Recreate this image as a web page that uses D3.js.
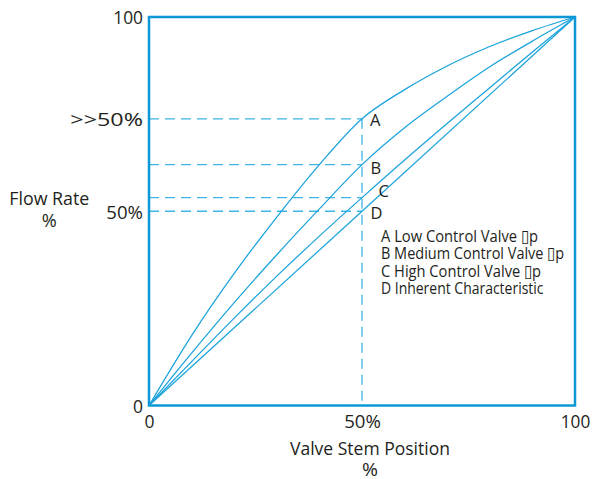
<!DOCTYPE html>
<html>
<head>
<meta charset="utf-8">
<script src="https://cdn.jsdelivr.net/npm/d3@7"></script>
<style>
  html, body { margin: 0; padding: 0; background: #fff; }
  svg { display: block; }
  text { font-family: "Open Sans", sans-serif; fill: #231f20; }
</style>
</head>
<body>
<svg id="chart" width="592" height="479"></svg>
<script>
// ---- data ----
const curveNames = ["A", "B", "C", "D"];
const stemA = [0, 10, 20, 30, 40, 50, 60, 70, 80, 90, 100];
const flowA = [0, 18, 34, 48.5, 62, 73.8, 81.3, 87.4, 92.4, 96.5, 100];
const stemB = [0, 10, 20, 30, 40, 50, 60, 70, 80, 90, 100];
const flowB = [0, 13.5, 26.5, 38.8, 50.6, 62, 71.5, 79.6, 87.2, 93.8, 100];
const stemC = [0, 10, 20, 30, 40, 50, 60, 70, 80, 90, 100];
const flowC = [0, 11.3, 22.5, 33.3, 43.6, 53.5, 63.2, 72.6, 81.8, 91.0, 100];
const stemD = [0, 50, 100];
const flowD = [0, 50, 100];
const refStem = 50;
const refLevels = [73.8, 62, 53.5, 50];
const yTickValues = [0, 50, 73.8, 100];
const yTickLabels = ["0", "50%", ">>50%", "100"];
const xTickValues = [0, 50, 100];
const xTickLabels = ["0", "50%", "100"];
const legendLines = [
  "A Low Control Valve \u25AFp",
  "B Medium Control Valve \u25AFp",
  "C High Control Valve \u25AFp",
  "D Inherent Characteristic"
];
const yTitle = ["Flow Rate", "%"];
const xTitle = ["Valve Stem Position", "%"];

// ---- layout ----
const svg = d3.select("#chart");
const x = d3.scaleLinear().domain([0, 100]).range([149, 575]);
const y = d3.scaleLinear().domain([0, 100]).range([405.5, 17]);
const lineColor = "#1ba3dc";
const frameColor = "#0c98d6";
const dashColor = "#3cb6e6";

const series = [
  { name: "A", pts: stemA.map((s, i) => [s, flowA[i]]), curve: d3.curveMonotoneX },
  { name: "B", pts: stemB.map((s, i) => [s, flowB[i]]), curve: d3.curveMonotoneX },
  { name: "C", pts: stemC.map((s, i) => [s, flowC[i]]), curve: d3.curveMonotoneX },
  { name: "D", pts: stemD.map((s, i) => [s, flowD[i]]), curve: d3.curveLinear }
];

// dashed reference lines
svg.append("g").selectAll("line.h").data(refLevels).join("line")
  .attr("x1", x(0)).attr("x2", x(refStem))
  .attr("y1", d => y(d)).attr("y2", d => y(d))
  .attr("stroke", dashColor).attr("stroke-width", 1.3)
  .attr("stroke-dasharray", "10,6");
svg.append("line")
  .attr("x1", x(refStem)).attr("x2", x(refStem))
  .attr("y1", y(d3.max(refLevels))).attr("y2", y(0))
  .attr("stroke", dashColor).attr("stroke-width", 1.3)
  .attr("stroke-dasharray", "10,6");

// curves
const line = d3.line().x(d => x(d[0])).y(d => y(d[1]));
svg.append("g").selectAll("path").data(series).join("path")
  .attr("d", d => line.curve(d.curve)(d.pts))
  .attr("fill", "none").attr("stroke", lineColor).attr("stroke-width", 1.25);

// frame
svg.append("rect")
  .attr("x", x(0)).attr("y", y(100))
  .attr("width", x(100) - x(0)).attr("height", y(0) - y(100))
  .attr("fill", "none").attr("stroke", frameColor).attr("stroke-width", 2.5);

// curve letters
const letterPos = { A: [370, 126], B: [370.5, 174], C: [378.5, 196.5], D: [370.5, 219] };
svg.append("g").selectAll("text").data(curveNames).join("text")
  .attr("x", d => letterPos[d][0]).attr("y", d => letterPos[d][1])
  .attr("font-size", 16.5).text(d => d);

// legend
const legendW = [157, 183, 160, 162.5];
svg.append("g").selectAll("text").data(legendLines).join("text")
  .attr("x", 381).attr("y", (d, i) => 241.7 + i * 17.45)
  .attr("font-size", 16.5)
  .attr("textLength", (d, i) => legendW[i]).attr("lengthAdjust", "spacingAndGlyphs")
  .text(d => d);

// y axis
const yAxis = d3.axisLeft(y).tickValues(yTickValues)
  .tickFormat((d, i) => yTickLabels[i]).tickSize(0).tickPadding(6);
const gy = svg.append("g").attr("transform", `translate(${x(0)},0)`).call(yAxis);
gy.select(".domain").remove();
const yLabW = [10, 36.7, 72.7, 29.7];
gy.selectAll("text").attr("font-size", 19).attr("fill", "#231f20")
  .attr("font-family", "Open Sans, sans-serif")
  .attr("textLength", (d, i) => yLabW[i]).attr("lengthAdjust", "spacingAndGlyphs")
  .attr("dy", "0.36em");

// x axis
const xAxis = d3.axisBottom(x).tickValues(xTickValues)
  .tickFormat((d, i) => xTickLabels[i]).tickSize(0).tickPadding(9);
const gx = svg.append("g").attr("transform", `translate(0,${y(0)})`).call(xAxis);
gx.select(".domain").remove();
const xLabW = [10, 36.7, 29.5];
gx.selectAll("text").attr("font-size", 19).attr("fill", "#231f20")
  .attr("font-family", "Open Sans, sans-serif")
  .attr("textLength", (d, i) => xLabW[i]).attr("lengthAdjust", "spacingAndGlyphs");

// axis titles
svg.append("text").attr("x", 49.3).attr("y", 205).attr("text-anchor", "middle")
  .attr("font-size", 19).attr("textLength", 80).attr("lengthAdjust", "spacingAndGlyphs")
  .text(yTitle[0]);
svg.append("text").attr("x", 49.3).attr("y", 226.5).attr("text-anchor", "middle")
  .attr("font-size", 18).attr("textLength", 15).attr("lengthAdjust", "spacingAndGlyphs")
  .text(yTitle[1]);
svg.append("text").attr("x", 370).attr("y", 455).attr("text-anchor", "middle")
  .attr("font-size", 19).attr("textLength", 160).attr("lengthAdjust", "spacingAndGlyphs")
  .text(xTitle[0]);
svg.append("text").attr("x", 370).attr("y", 475.5).attr("text-anchor", "middle")
  .attr("font-size", 18).attr("textLength", 16).attr("lengthAdjust", "spacingAndGlyphs")
  .text(xTitle[1]);
</script>
</body>
</html>
